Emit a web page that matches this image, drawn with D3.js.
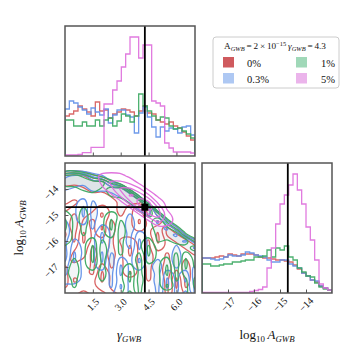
<!DOCTYPE html>
<html><head><meta charset="utf-8">
<script src="https://cdn.jsdelivr.net/npm/d3@7"></script>
<style>
body{margin:0;background:#fff}
svg{display:block}
text{font-family:"Liberation Serif","DejaVu Serif",serif;fill:#111}
</style>
</head><body>
<svg id="c" width="358" height="358"></svg>
<script>
// ---------- data ----------
const seriesNames = ["0%", "0.3%", "1%", "5%"];
const gammaDomain = [0, 7];
const logADomain = [-18, -13];
const gammaTicks = [1.5, 3.0, 4.5, 6.0];
const logATicks = [-17, -16, -15, -14];
const gammaTickLabels = ["1.5", "3.0", "4.5", "6.0"];
const logATickLabels = ["\u221217", "\u221216", "\u221215", "\u221214"];
const truthGamma = 4.3;
const truthLogA = -14.7;

// 1-D histogram counts (30 bins each)
const gammaHist0  = [40,42,45,50,47,44,40,54,45,46,38,42,44,47,46,44,40,45,50,43,42,36,34,32,34,30,28,24,20,16];
const gammaHist03 = [47,55,53,49,46,42,48,44,41,47,33,41,46,46,41,39,23,43,49,39,29,19,29,25,28,27,23,29,30,21];
const gammaHist1  = [36,36,30,30,34,30,30,36,30,36,38,30,35,42,40,34,40,62,50,45,40,36,39,38,30,27,28,25,22,18];
const gammaHist5  = [1,1,1,1.5,3.3,3.3,8.7,8.7,8.7,52,52,66,75,89,102,119,119,98,111,111,55,53,50,13,8,4,4,4,4,3];

const logAHist0  = [35,35,35,36,37,36,39,38,37,39,39,39,38,36,35,35,34,33,33,32,31,28,24,20,17,13,11,7,5,3];
const logAHist03 = [35,35,34,33,34,36,38,37,37,38,41,40,38,37,36,33,31,31,33,33,29,27,25,20,17,13,12,7,5,3];
const logAHist1  = [29,29,27,27,28,29,29,31,31,32,33,33,36,36,37,43,36,45,43,47,36,33,25,21,17,16,10,6,4,3];
const logAHist5  = [0.5,0.5,0.5,0.5,0.5,0.5,0.5,0.5,0.5,0.5,0.5,1.5,2.5,3.5,6,25,45,69,89,98,108,119,103,89,66,53,33,9,5,3];

// 2-D density grids: columns = gridGamma, rows = gridLogA (digit levels 0-9)
const gridGamma = [0,0.5,1,1.5,2,2.5,3,3.5,4,4.5,5,5.5,6,6.5,7];
const gridLogA = [-13,-13.25,-13.5,-13.75,-14,-14.25,-14.5,-14.75,-15,-15.25,-15.5,-15.75,-16,-16.25,-16.5,-16.75,-17,-17.25,-17.5,-17.75,-18];
const grid0 = [
"000000000000000","211000000000000","787320000000000","878783100000000","656877820000000",
"555657782000000","545555778100000","455535853800000","575425753740000","584537552573000",
"583528553537300","472537555527720","572557435725783","553757525735578","643858525857557",
"545757535857575","755737535758585","756725525758385","845525655757276","755535556557275",
"554554555557355"];
const grid03 = [
"000000000000000","211000000000000","678430000000000","887783100000000","765877820000000",
"555556782000000","553755578100000","552855557800000","552855575740000","753755585573000",
"855735585567300","855525573556720","745525672555673","735535572555757","825527553555855",
"726528352575855","535538253685757","535557255573538","435657355582528","555557255572537",
"555555355573527"];
const grid1 = [
"000000000000000","210000000000000","786320000000000","878784100000000","667868920000000",
"555657792000000","555555578100000","557555558900000","358553555760000","258552755694000",
"257552855587400","357553855578830","355375755376884","555285755255568","565285757255736",
"575275558353825","585375537552825","685585527552733","575575528553752","575555637552552",
"555555527555553"];
const grid5 = [
"000000000000000","000111100000000","000122210000000","000024431000000","000013664100000",
"000001487410000","000000159831000","000000016961000","000000001573000","000000000143100",
"000000000011000","000000000000000","000000000000000","000000000000000","000000000000000",
"000000000000000","000000000000000","000000000000000","000000000000000","000000000000000",
"000000000000000"];

// ---------- styles ----------
const lineColors = ["#d65a5a", "#5f8fe8", "#3aa860", "#de6ddb"];
const legendColors = ["#cf5a5e", "#aec8f3", "#a0d8b8", "#ebb4eb"];
const frameColor = "#555";

// ---------- layout ----------
const PT = {x0:65, x1:195, y0:26, y1:156};
const P2 = {x0:65, x1:195, y0:163, y1:293};
const PR = {x0:202, x1:332, y0:163, y1:293};

const svg = d3.select("#c");
const defs = svg.append("defs");
function clip(id, p){
  defs.append("clipPath").attr("id", id).append("rect")
    .attr("x", p.x0).attr("y", p.y0).attr("width", p.x1 - p.x0).attr("height", p.y1 - p.y0);
}
clip("cT", PT); clip("c2", P2); clip("cR", PR);

const gx = d3.scaleLinear().domain(gammaDomain).range([P2.x0, P2.x1]);
const ay = d3.scaleLinear().domain(logADomain).range([P2.y1, P2.y0]);
const ax = d3.scaleLinear().domain(logADomain).range([PR.x0, PR.x1]);
const hyT = d3.scaleLinear().domain([0, 130]).range([PT.y1, PT.y0]);
const hyR = d3.scaleLinear().domain([0, 130]).range([PR.y1, PR.y0]);

// ---------- histograms ----------
function stepPath(counts, xs, ys, lo, hi){
  const n = counts.length, w = (hi - lo) / n;
  const pts = [[lo, 0]];
  counts.forEach((c, i) => { pts.push([lo + i * w, c]); pts.push([lo + (i + 1) * w, c]); });
  pts.push([hi, 0]);
  return d3.line().x(d => xs(d[0])).y(d => ys(d[1]))(pts);
}
const gT = svg.append("g").attr("clip-path", "url(#cT)");
[gammaHist0, gammaHist03, gammaHist1, gammaHist5].forEach((h, i) => {
  gT.append("path").attr("d", stepPath(h, gx, hyT, gammaDomain[0], gammaDomain[1]))
    .attr("fill", "none").attr("stroke", lineColors[i]).attr("stroke-width", 1.3).attr("stroke-opacity", 0.9);
});
const gR = svg.append("g").attr("clip-path", "url(#cR)");
[logAHist0, logAHist03, logAHist1, logAHist5].forEach((h, i) => {
  gR.append("path").attr("d", stepPath(h, ax, hyR, logADomain[0], logADomain[1]))
    .attr("fill", "none").attr("stroke", lineColors[i]).attr("stroke-width", 1.3).attr("stroke-opacity", 0.9);
});

// ---------- 2-D contours ----------
const nx = gridGamma.length, ny = gridLogA.length;
const cx = d3.scaleLinear().domain([0.5, nx - 0.5]).range([gx(gridGamma[0]), gx(gridGamma[nx - 1])]);
const cy = d3.scaleLinear().domain([0.5, ny - 0.5]).range([ay(gridLogA[0]), ay(gridLogA[ny - 1])]);
const ringLine = d3.line().x(p => cx(p[0])).y(p => cy(p[1])).curve(d3.curveBasisClosed);
function parseGrid(rows){ const v = []; rows.forEach(r => { for (const ch of r) v.push(+ch); }); return v; }
function contourPath(mp){
  const parts = [];
  mp.coordinates.forEach(poly => poly.forEach(r => parts.push(ringLine(r.slice(0, -1)))));
  return parts.join("");
}
const g2 = svg.append("g").attr("clip-path", "url(#c2)");
const grids = [grid0, grid03, grid1, grid5];
const thresholdSets = [[2.5, 4.5, 6.5], [2.5, 4.5, 6.5], [2.5, 4.5, 6.5], [1.5, 3.5, 5.5, 7.5]];
// light fills first
grids.slice(0, 3).forEach((gr, i) => {
  const cs = d3.contours().size([nx, ny]).thresholds([6.5])(parseGrid(gr));
  cs.forEach(c => g2.append("path").attr("d", contourPath(c))
    .attr("fill", "#8a9ab5").attr("fill-opacity", 0.1).attr("fill-rule", "evenodd").attr("stroke", "none"));
});
grids.forEach((gr, i) => {
  const cs = d3.contours().size([nx, ny]).thresholds(thresholdSets[i])(parseGrid(gr));
  cs.forEach(c => g2.append("path").attr("d", contourPath(c))
    .attr("fill", "none").attr("stroke", lineColors[i]).attr("stroke-width", 1.3).attr("stroke-opacity", 0.95));
});

// ---------- truth lines ----------
svg.append("line").attr("x1", gx(truthGamma)).attr("x2", gx(truthGamma)).attr("y1", PT.y0).attr("y2", PT.y1)
  .attr("stroke", "#000").attr("stroke-width", 1.8);
svg.append("line").attr("x1", gx(truthGamma)).attr("x2", gx(truthGamma)).attr("y1", P2.y0).attr("y2", P2.y1)
  .attr("stroke", "#000").attr("stroke-width", 1.8);
svg.append("line").attr("x1", P2.x0).attr("x2", P2.x1).attr("y1", ay(truthLogA)).attr("y2", ay(truthLogA))
  .attr("stroke", "#000").attr("stroke-width", 1.8);
svg.append("rect").attr("x", gx(truthGamma) - 3.5).attr("y", ay(truthLogA) - 3.5).attr("width", 7).attr("height", 7).attr("fill", "#000");
svg.append("line").attr("x1", ax(truthLogA)).attr("x2", ax(truthLogA)).attr("y1", PR.y0).attr("y2", PR.y1)
  .attr("stroke", "#000").attr("stroke-width", 1.8);

// ---------- axes (inward ticks) ----------
function ticksX(p, scale, vals){
  const g = svg.append("g").attr("transform", `translate(0,${p.y1})`)
    .call(d3.axisBottom(scale).tickValues(vals).tickSizeInner(-3.5).tickSizeOuter(0).tickFormat(""));
  g.select(".domain").remove();
  g.selectAll("line").attr("stroke", frameColor);
}
function ticksY(p, scale, vals){
  const g = svg.append("g").attr("transform", `translate(${p.x0},0)`)
    .call(d3.axisLeft(scale).tickValues(vals).tickSizeInner(-3.5).tickSizeOuter(0).tickFormat(""));
  g.select(".domain").remove();
  g.selectAll("line").attr("stroke", frameColor);
}
ticksX(PT, gx, gammaTicks);
ticksX(P2, gx, gammaTicks);
ticksY(P2, ay, logATicks);
ticksX(PR, ax, logATicks);

// frames
[PT, P2, PR].forEach(p => svg.append("rect").attr("x", p.x0).attr("y", p.y0)
  .attr("width", p.x1 - p.x0).attr("height", p.y1 - p.y0)
  .attr("fill", "none").attr("stroke", frameColor).attr("stroke-width", 1.5));

// tick labels
gammaTicks.forEach((v, i) => svg.append("text")
  .attr("transform", `translate(${gx(v)},304.5) rotate(-45)`)
  .attr("text-anchor", "middle").attr("dominant-baseline", "central").attr("font-size", 10).text(gammaTickLabels[i]));
logATicks.forEach((v, i) => svg.append("text")
  .attr("transform", `translate(${ax(v)},304.5) rotate(-45)`)
  .attr("text-anchor", "middle").attr("dominant-baseline", "central").attr("font-size", 10).text(logATickLabels[i]));
logATicks.forEach((v, i) => svg.append("text")
  .attr("transform", `translate(51,${ay(v) + 3.5}) rotate(-45)`)
  .attr("text-anchor", "middle").attr("dominant-baseline", "central").attr("font-size", 10).text(logATickLabels[i]));

// axis labels
function gammaLabel(sel){
  sel.append("tspan").attr("font-style", "italic").text("\u03b3");
  sel.append("tspan").attr("font-style", "italic").attr("font-size", "0.68em").attr("dy", 3).text("GWB");
}
function logALabel(sel){
  sel.append("tspan").text("log");
  sel.append("tspan").attr("font-size", "0.68em").attr("dy", 3).text("10");
  sel.append("tspan").attr("font-style", "italic").attr("dy", -3).text("\u2009A");
  sel.append("tspan").attr("font-style", "italic").attr("font-size", "0.68em").attr("dy", 3).text("GWB");
}
svg.append("text").attr("x", 129).attr("y", 339).attr("text-anchor", "middle").attr("font-size", 13).call(gammaLabel);
svg.append("text").attr("x", 267).attr("y", 339).attr("text-anchor", "middle").attr("font-size", 13).call(logALabel);
svg.append("text").attr("transform", "translate(23,228) rotate(-90)").attr("text-anchor", "middle").attr("font-size", 13).call(logALabel);

// ---------- legend ----------
const lg = svg.append("g");
lg.append("rect").attr("x", 213).attr("y", 37).attr("width", 126).attr("height", 51).attr("rx", 3)
  .attr("fill", "#fff").attr("stroke", "#ccc").attr("stroke-width", 1);
const title = lg.append("text").attr("x", 224).attr("y", 49).attr("font-size", 9.2);
title.append("tspan").text("A");
title.append("tspan").attr("font-style", "italic").attr("font-size", "0.7em").attr("dy", 2).text("GWB");
title.append("tspan").attr("dy", -2).text("\u2009=\u20092\u2009\u00d7\u200910");
title.append("tspan").attr("font-size", "0.7em").attr("dy", -3.5).text("\u221215");
title.append("tspan").attr("font-style", "italic").attr("dy", 3.5).text("\u2009\u03b3");
title.append("tspan").attr("font-style", "italic").attr("font-size", "0.7em").attr("dy", 2).text("GWB");
title.append("tspan").attr("dy", -2).text("\u2009=\u20094.3");
const legPos = [[223, 57, 247, "start"], [223, 73, 247, "start"], [296, 57, 335, "end"], [296, 73, 335, "end"]];
seriesNames.forEach((nm, i) => {
  const [px, py, tx, anc] = legPos[i];
  lg.append("rect").attr("x", px).attr("y", py).attr("width", 11).attr("height", 10.5).attr("fill", legendColors[i]);
  lg.append("text").attr("x", tx).attr("y", py + 9.5).attr("text-anchor", anc).attr("font-size", 10.5).text(nm);
});
</script>
</body></html>
